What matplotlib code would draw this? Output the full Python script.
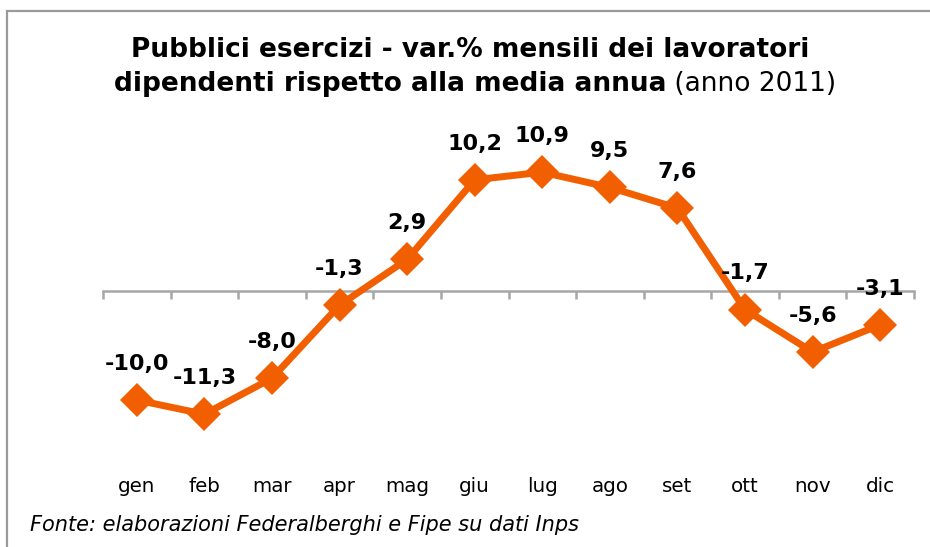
import matplotlib
matplotlib.use('Agg')
import matplotlib.pyplot as plt
from matplotlib.patches import Rectangle
import matplotlib.transforms as mtransforms

months = ["gen", "feb", "mar", "apr", "mag", "giu", "lug", "ago", "set", "ott", "nov", "dic"]
values = [-10.0, -11.3, -8.0, -1.3, 2.9, 10.2, 10.9, 9.5, 7.6, -1.7, -5.6, -3.1]
value_labels = ["-10,0", "-11,3", "-8,0", "-1,3", "2,9", "10,2", "10,9", "9,5", "7,6", "-1,7", "-5,6", "-3,1"]

title_line1 = "Pubblici esercizi - var.% mensili dei lavoratori"
title_line2_bold = "dipendenti rispetto alla media annua"
title_line2_normal = " (anno 2011)"
source = "Fonte: elaborazioni Federalberghi e Fipe su dati Inps"

W, H = 930, 547
plt.rcParams['font.family'] = ['DejaVu Sans']
fig = plt.figure(figsize=(W / 100, H / 100), dpi=100)

# outer frame (cut on right and bottom, as in the reference)
fig.patches.append(Rectangle((7 / W, -0.1), 1.2, 1.1 - 11 / H, transform=fig.transFigure,
                             fill=False, edgecolor="#9a9a9a", linewidth=1.6))

# axes placed in pixel terms: left 103, right 914, top 130, bottom 460
ax = fig.add_axes([103 / W, 1 - 460 / H, (914 - 103) / W, (460 - 130) / H])
ax.set_xlim(-0.5, len(months) - 0.5)
ax.set_ylim(-15.5, 14.77)

orange = "#F25F00"
ax.plot(range(len(months)), values, color=orange, linewidth=5, marker="D",
        markersize=17, markeredgewidth=0, solid_joinstyle="miter", zorder=3)

for i, (v, lab) in enumerate(zip(values, value_labels)):
    ax.annotate(lab, (i, v), xytext=(0, 26), textcoords="offset points",
                ha="center", va="center", fontsize=16, fontweight="bold", color="black")

for s in ["left", "right", "top"]:
    ax.spines[s].set_visible(False)
ax.spines["bottom"].set_position(("data", 0))
ax.spines["bottom"].set_color("#a6a6a6")
ax.spines["bottom"].set_linewidth(1.8)
ax.set_yticks([])
ax.set_xticks([i - 0.5 for i in range(len(months) + 1)])
ax.set_xticklabels([])
ax.tick_params(axis="x", direction="out", length=6, width=1.8, color="#a6a6a6")

trans = mtransforms.blended_transform_factory(ax.transData, fig.transFigure)
for i, m in enumerate(months):
    ax.text(i, 1 - 486 / H, m, transform=trans, ha="center", va="center", fontsize=14.3)

# title
fig.text(470 / W, 1 - 50 / H, title_line1, ha="center", va="center", fontsize=19, fontweight="bold")
t_bold = fig.text(0, 1 - 84 / H, title_line2_bold, ha="left", va="center", fontsize=19, fontweight="bold")
t_norm = fig.text(0, 1 - 84 / H, title_line2_normal, ha="left", va="center", fontsize=19)
r = fig.canvas.get_renderer()
wb = t_bold.get_window_extent(r).width
wn = t_norm.get_window_extent(r).width
x0 = 475 - (wb + wn) / 2
t_bold.set_x(x0 / W)
t_norm.set_x((x0 + wb) / W)

fig.text(30 / W, 1 - 525 / H, source, ha="left", va="center", fontsize=15, style="italic")

fig.savefig("out.png", dpi=100)
